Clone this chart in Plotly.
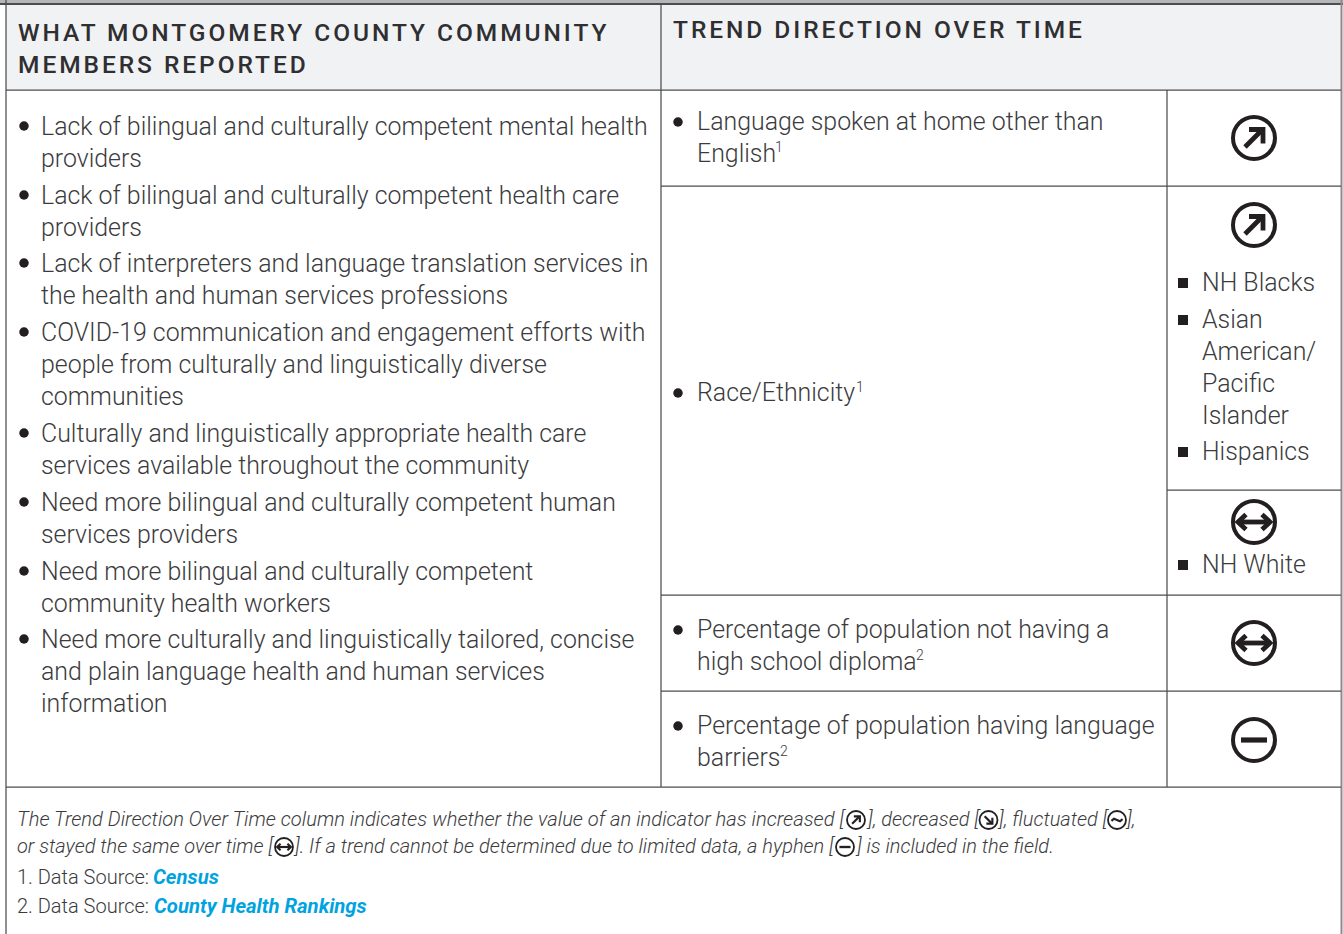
import plotly.graph_objects as go

# ---------- content ----------
header_left = ["WHAT MONTGOMERY COUNTY COMMUNITY", "MEMBERS REPORTED"]
header_right = ["TREND DIRECTION OVER TIME"]
reported_lines = [
    "Lack of bilingual and culturally competent mental health", "providers",
    "Lack of bilingual and culturally competent health care", "providers",
    "Lack of interpreters and language translation services in", "the health and human services professions",
    "COVID-19 communication and engagement efforts with", "people from culturally and linguistically diverse", "communities",
    "Culturally and linguistically appropriate health care", "services available throughout the community",
    "Need more bilingual and culturally competent human", "services providers",
    "Need more bilingual and culturally competent", "community health workers",
    "Need more culturally and linguistically tailored, concise", "and plain language health and human services", "information",
]
indicator_lines = [
    "Language spoken at home other than", "English",
    "Race/Ethnicity",
    "Percentage of population not having a", "high school diploma",
    "Percentage of population having language", "barriers",
]
footnote_marks = ["1", "1", "2", "2"]
group_lines = ["NH Blacks", "Asian", "American/", "Pacific", "Islander", "Hispanics", "NH White"]
note_segments_1 = ["The Trend Direction Over Time column indicates whether the value of an indicator has increased [",
                   "], decreased [", "], fluctuated [", "],"]
note_segments_2 = ["or stayed the same over time [",
                   "]. If a trend cannot be determined due to limited data, a hyphen [",
                   "] is included in the field."]
source_labels = ["1. Data Source: ", "2. Data Source: "]
source_links = ["Census", "County Health Rankings"]
trend_icons = ["up", "up", "same", "same", "none"]
note_icons_1 = ["up", "down", "fluct"]
note_icons_2 = ["same", "none"]

# ---------- layout geometry (page pixels) ----------
reported_y = [126, 158, 195, 227, 263, 295, 332, 364, 396, 433, 465, 502, 534, 571, 603, 639, 671, 703]
reported_bullet_y = [126, 195, 263, 332, 433, 502, 571, 639]
indicator_y = [121, 153, 392, 629, 661, 725, 757]
indicator_bullet_y = [122, 393, 630, 726]
mark_x = [775, 856, 916, 780]
mark_y = [147, 387, 655, 751]
group_y = [282, 319, 351, 383, 415, 451, 564]
group_square_y = [283, 320, 452, 565]
trend_icon_y = [138, 225, 522, 643, 740]
note1_x, note1_size, note1_icon_x = [17, 866, 997, 1125], [20.15, 20, 20, 20], [856, 988.5, 1117]
note2_x, note2_size, note2_icon_x = [17, 293, 854.5], [20, 20, 20], [284, 845]

TEXT = "#3b3b3d"
DARK = "#231f20"
LINE = "#4d4d4f"
BLUE = "#00a3e0"
FONT = "Roboto"

fig = go.Figure()
shapes, annotations = [], []


def rule(x0, y0, x1, y1, color=LINE, width=1.25):
    shapes.append(dict(type="line", x0=x0, y0=y0, x1=x1, y1=y1, xref="x", yref="y",
                       line=dict(color=color, width=width)))


def label(x, y, text, size=24.9, color=TEXT, weight=300, style="normal"):
    annotations.append(dict(x=x, y=y, xref="x", yref="y", text=text, showarrow=False,
                            xanchor="left", yanchor="middle", align="left",
                            borderpad=0, borderwidth=0,
                            font=dict(family=FONT, size=size, color=color, weight=weight, style=style)))


def icon(kind, cx, cy, r=21.0, w=4.0):
    k = r / 21.0
    shapes.append(dict(type="circle", x0=cx - r, x1=cx + r, y0=cy - r, y1=cy + r, xref="x", yref="y",
                       line=dict(color=DARK, width=w)))
    P = lambda pts: "M" + " L".join(f"{cx + a * k:.2f},{cy + b * k:.2f}" for a, b in pts)
    if kind == "up":
        parts = [[(-9, 9), (8, -8)], [(-5, -8.5), (9, -8.5), (9, 5.5)]]
    elif kind == "down":
        parts = [[(-9, -9), (8, 8)], [(-5, 8.5), (9, 8.5), (9, -5.5)]]
    elif kind == "same":
        parts = [[(-15, 0), (15, 0)], [(-8, -7.5), (-16, 0), (-8, 7.5)], [(8, -7.5), (16, 0), (8, 7.5)]]
    elif kind == "none":
        parts = [[(-13, 0), (13, 0)]]
    else:
        parts = [[(-13, 2), (-7, -3), (0, 0), (7, 3), (13, -2)]]
    for p in parts:
        lw = w * 1.3 if kind == "none" else w * 1.2
        shapes.append(dict(type="path", path=P(p), xref="x", yref="y",
                           line=dict(color=DARK, width=lw)))


# header fill and top band
shapes.append(dict(type="rect", x0=6, x1=1341, y0=4, y1=90, xref="x", yref="y",
                   fillcolor="#f1f2f4", line=dict(width=0), layer="below"))
shapes.append(dict(type="rect", x0=0, x1=1343, y0=0, y1=3, xref="x", yref="y",
                   fillcolor="#b5b6b8", line=dict(width=0), layer="below"))

# table rules
rule(0, 4, 1343, 4, width=2)
rule(6, 0, 6, 934)
rule(1341.5, 0, 1341.5, 934, color="#8a8b8d", width=2)
rule(661, 4, 661, 787)
rule(1167, 90, 1167, 787)
rule(6, 90, 1341, 90)
rule(661, 186, 1341, 186)
rule(1167, 490, 1341, 490)
rule(661, 595, 1341, 595)
rule(661, 691, 1341, 691)
rule(6, 787, 1341, 787)

# header text
for t, y in zip(header_left, [32, 64]):
    label(18, y, t, size=24.5, color="#2f2f31", weight=500)
label(673, 29, header_right[0], size=24.5, color="#2f2f31", weight=500)

# body text
for t, y in zip(reported_lines, reported_y):
    label(41, y, t)
for t, y in zip(indicator_lines, indicator_y):
    label(697, y, t)
for t, x, y in zip(footnote_marks, mark_x, mark_y):
    label(x, y, t, size=14)
for t, y in zip(group_lines, group_y):
    label(1202, y, t)

# bullets
fig.add_trace(go.Scatter(x=[24] * len(reported_bullet_y) + [678] * len(indicator_bullet_y),
                         y=reported_bullet_y + indicator_bullet_y, mode="markers",
                         marker=dict(symbol="circle", size=9.5, color=DARK), hoverinfo="skip"))
fig.add_trace(go.Scatter(x=[1183] * len(group_square_y), y=group_square_y, mode="markers",
                         marker=dict(symbol="square", size=10, color=DARK), hoverinfo="skip"))

# trend icons
for kind, y in zip(trend_icons, trend_icon_y):
    icon(kind, 1254, y)

# notes
for t, x, s in zip(note_segments_1, note1_x, note1_size):
    label(x, 819, t, size=s, style="italic")
for t, x, s in zip(note_segments_2, note2_x, note2_size):
    label(x, 846, t, size=s, style="italic")
for kind, x in zip(note_icons_1, note1_icon_x):
    icon(kind, x, 820, r=9.0, w=1.8)
for kind, x in zip(note_icons_2, note2_icon_x):
    icon(kind, x, 847, r=9.0, w=1.8)

# sources
for t, l, y, x in zip(source_labels, source_links, [877, 906], [153, 154]):
    label(17, y, t, size=20)
    label(x, y, l, size=20.3, color=BLUE, weight=700, style="italic")

fig.update_layout(
    width=1343, height=934, margin=dict(l=0, r=0, t=0, b=0), showlegend=False,
    paper_bgcolor="white", plot_bgcolor="white", shapes=shapes, annotations=annotations,
    xaxis=dict(range=[0, 1343], visible=False, fixedrange=True),
    yaxis=dict(range=[934, 0], visible=False, fixedrange=True),
)

post = """
document.documentElement.style.margin='0';
document.body.style.margin='0';
document.body.style.overflow='hidden';
document.querySelectorAll('.annotation-text').forEach(function(t){
  var s=t.textContent;
  if(s.indexOf('WHAT MONT')===0||s.indexOf('MEMBERS')===0||s.indexOf('TREND DIR')===0){t.style.letterSpacing='2.95px';}
});
"""
fig.write_html("out.html", post_script=post, config=dict(displayModeBar=False))
